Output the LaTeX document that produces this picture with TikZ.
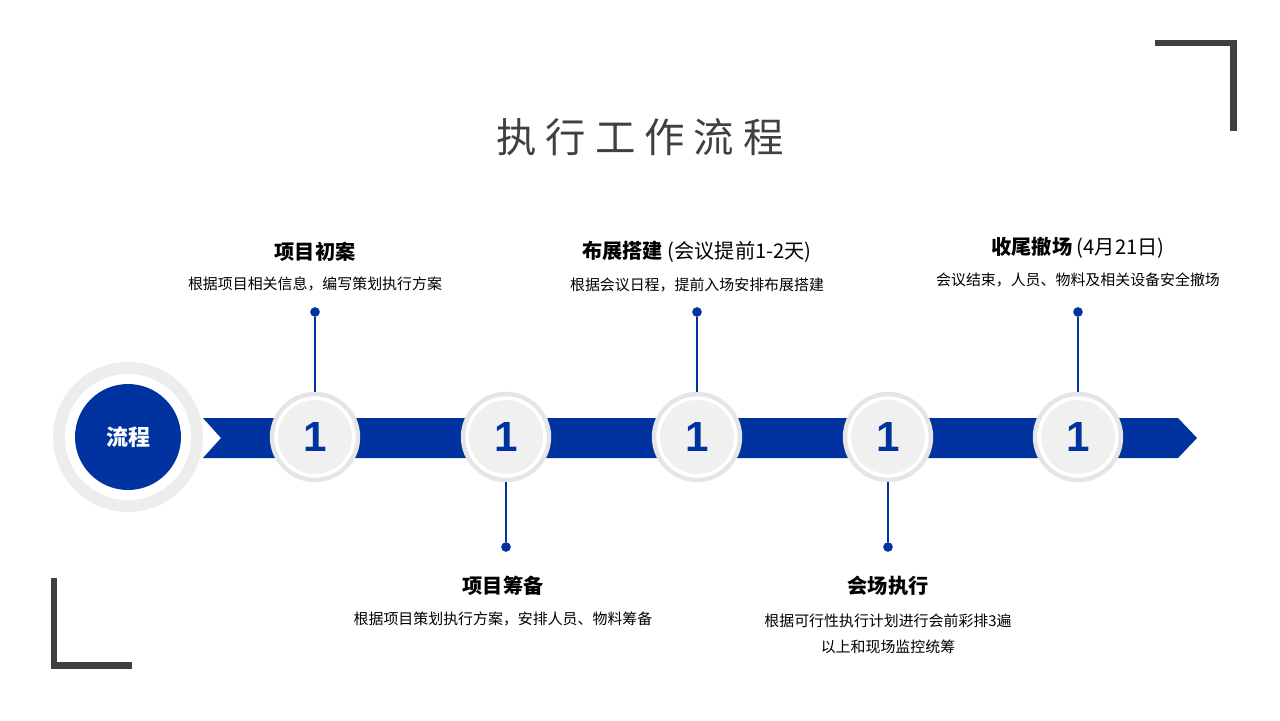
\documentclass[tikz,border=0pt]{standalone}
\usepackage{fontspec}
\setmainfont{Noto Sans CJK SC}
\newfontfamily\numfont{Liberation Sans}
\definecolor{bl}{HTML}{0033A0}
\definecolor{dk}{HTML}{404040}
\begin{document}
\begin{tikzpicture}[x=0.02cm,y=-0.02cm,
  ttl/.style={font=\fontsize{11.5}{13}\selectfont\bfseries,text=black},
  dsc/.style={font=\fontsize{8.5}{15}\selectfont,text=black,align=center},
  stem/.style={bl,line width=1.4pt},
  dotn/.style={circle,fill=bl,inner sep=0pt,minimum size=5.5pt},
  numc/.style={circle,fill=white,draw=black!10,line width=2.5pt,minimum size=86*0.569pt,inner sep=0pt},
  numi/.style={circle,fill=black!6,inner sep=0pt,minimum size=74*0.569pt,text=bl,font=\numfont\fontsize{24}{24}\selectfont\bfseries}]
\useasboundingbox (0,0) rectangle (1280,720);
\node[font=\fontsize{23}{26}\selectfont,text=dk] (title) at (640,137) {执\ 行\ 工\ 作\ 流\ 程};
\draw[dk,line width=7*0.569pt] (1155,43) -- (1233,43) -- (1233,131);
\draw[dk,line width=7*0.569pt] (54,578) -- (54,665) -- (132,665);
\fill[bl] (203,418) -- (1178,418) -- (1197,438) -- (1178,458) -- (203,458) -- (221,438) -- cycle;
\node[circle,fill=black!7,minimum size=150*0.569pt] (bigo) at (128,437) {};
\node[circle,fill=white,minimum size=126*0.569pt] (bigw) at (128,437) {};
\node[circle,fill=bl,minimum size=106*0.569pt,text=white,font=\fontsize{12.5}{14}\selectfont\bfseries] (flow) at (128,437) {流程};
\foreach \i/\x in {1/315,2/506,3/697,4/888,5/1078}{
  \node[numc] (c\i) at (\x,437) {};
  \node[numi] (n\i) at (\x,437) {1};
}
\foreach \i/\x in {1/315,3/697,5/1078}{
  \node[dotn] (d\i) at (\x,312) {};
  \draw[stem] (d\i) -- (c\i.north);
}
\foreach \i/\x in {2/506,4/888}{
  \node[dotn] (d\i) at (\x,547) {};
  \draw[stem] (c\i.south) -- (d\i);
}
\node[ttl] (t1) at (315,252) {项目初案};
\node[dsc] (s1) at (315,284) {根据项目相关信息，编写策划执行方案};
\node[ttl] (t3) at (697,252) {布展搭建 {\mdseries(会议提前1-2天)}};
\node[dsc] (s3) at (697,285) {根据会议日程，提前入场安排布展搭建};
\node[ttl] (t5) at (1078,248) {收尾撤场 {\mdseries(4月21日)}};
\node[dsc] (s5) at (1078,280) {会议结束，人员、物料及相关设备安全撤场};
\node[ttl] (t2) at (503,586) {项目筹备};
\node[dsc] (s2) at (503,619) {根据项目策划执行方案，安排人员、物料筹备};
\node[ttl] (t4) at (888,586) {会场执行};
\node[dsc] (s4) at (888,634) {根据可行性执行计划进行会前彩排3遍\\以上和现场监控统筹};
\end{tikzpicture}
\end{document}
